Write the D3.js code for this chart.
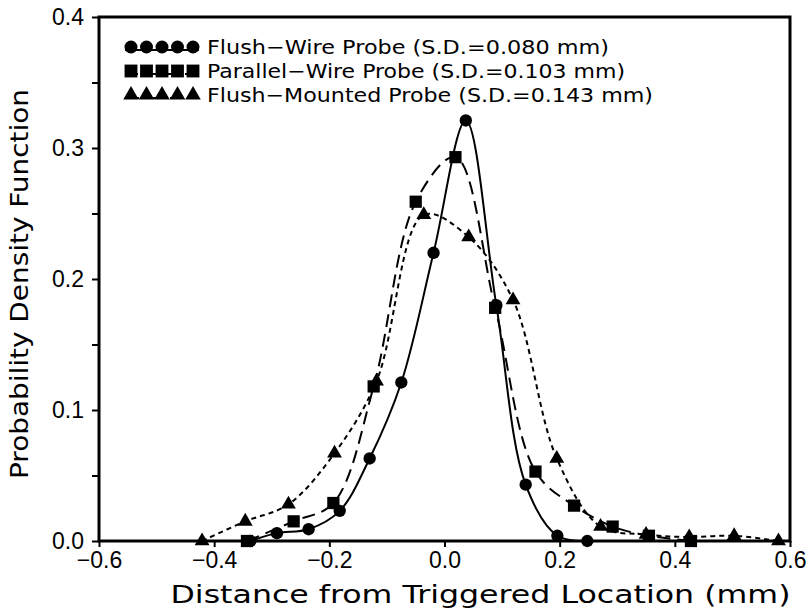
<!DOCTYPE html>
<html>
<head>
<meta charset="utf-8">
<script src="https://cdn.jsdelivr.net/npm/d3@7"></script>
<style>
  body { margin: 0; background: #fff; }
  svg { font-family: "DejaVu Sans", sans-serif; }
  .axis path, .axis line { stroke: #000; }
  .axis text { font-size: 23px; fill: #000; }
</style>
</head>
<body>
<div id="chart"></div>
<script>
// flush-wire probe (circles, solid)
let wireX = [-0.337, -0.291, -0.236, -0.182, -0.130, -0.075, -0.019, 0.037, 0.090, 0.141, 0.196, 0.248];
let wireY = [0.000, 0.006, 0.009, 0.023, 0.063, 0.121, 0.220, 0.321, 0.180, 0.043, 0.004, 0.000];

// parallel-wire probe (squares, long dash)
let parX = [-0.343, -0.262, -0.193, -0.123, -0.050, 0.019, 0.088, 0.158, 0.225, 0.292, 0.355, 0.428];
let parY = [0.000, 0.015, 0.029, 0.118, 0.259, 0.293, 0.178, 0.053, 0.027, 0.011, 0.004, 0.000];

// flush-mounted probe (triangles, short dash)
let mountX = [-0.421, -0.346, -0.271, -0.191, -0.118, -0.036, 0.042, 0.119, 0.195, 0.271, 0.350, 0.425, 0.503, 0.580];
let mountY = [0.000, 0.015, 0.028, 0.067, 0.122, 0.249, 0.232, 0.184, 0.063, 0.011, 0.005, 0.003, 0.004, 0.000];

let legendLabels = [
    'Flush\u2212Wire Probe  (S.D.=0.080  mm)',
    'Parallel\u2212Wire Probe  (S.D.=0.103  mm)',
    'Flush\u2212Mounted Probe  (S.D.=0.143  mm)'
];
let xTicks = [-0.6, -0.4, -0.2, 0.0, 0.2, 0.4, 0.6];
let yTicks = [0.0, 0.05, 0.1, 0.15, 0.2, 0.25, 0.3, 0.35, 0.4];

let margin = {top: 17, right: 18, bottom: 71, left: 99};
let W = 808, H = 612;
let width = W - margin.left - margin.right;
let height = H - margin.top - margin.bottom;

let svg = d3.select('#chart').append('svg')
    .attr('width', W)
    .attr('height', H);

let g = svg.append('g')
    .attr('transform', 'translate(' + margin.left + ',' + margin.top + ')');

let x = d3.scaleLinear().domain([-0.6, 0.6]).range([0, width]);
let y = d3.scaleLinear().domain([0, 0.4]).range([height, 0]);

let series = [
    {xs: wireX, ys: wireY, marker: d3.symbolCircle, size: 120, dash: null, label: legendLabels[0]},
    {xs: parX, ys: parY, marker: d3.symbolSquare, size: 150, dash: '13,7', label: legendLabels[1]},
    {xs: mountX, ys: mountY, marker: d3.symbolTriangle, size: 95, dash: '5,4', label: legendLabels[2]}
];

let line = d3.line()
    .x(function(d) { return x(d[0]); })
    .y(function(d) { return y(d[1]); })
    .curve(d3.curveCatmullRom.alpha(0.5));

series.forEach(function(s) {
    let pts = s.xs.map(function(v, i) { return [v, s.ys[i]]; });
    g.append('path')
        .datum(pts)
        .attr('fill', 'none')
        .attr('stroke', '#000')
        .attr('stroke-width', 2)
        .attr('stroke-dasharray', s.dash)
        .attr('d', line);
    g.selectAll(null)
        .data(pts)
        .enter().append('path')
        .attr('transform', function(d) { return 'translate(' + x(d[0]) + ',' + y(d[1]) + ')'; })
        .attr('d', d3.symbol().type(s.marker).size(s.size))
        .attr('fill', '#000');
});

// axes
let xAxis = g.append('g')
    .attr('class', 'axis')
    .attr('transform', 'translate(0,' + height + ')')
    .call(d3.axisBottom(x).tickValues(xTicks).tickSize(6).tickPadding(5).tickFormat(d3.format('.1f')));

let yAxis = g.append('g')
    .attr('class', 'axis')
    .call(d3.axisLeft(y).tickValues(yTicks).tickSize(7).tickPadding(8)
        .tickFormat(function(d) { return Math.round(d * 100) % 10 === 0 ? d3.format('.1f')(d) : ''; }));

xAxis.selectAll('line').attr('stroke-width', 2);
yAxis.selectAll('line').attr('stroke-width', 2);
xAxis.select('.domain').remove();
yAxis.select('.domain').remove();

// frame
g.append('rect')
    .attr('x', 0)
    .attr('y', 0)
    .attr('width', width)
    .attr('height', height)
    .attr('fill', 'none')
    .attr('stroke', '#000')
    .attr('stroke-width', 3);

// axis titles
svg.append('text')
    .attr('x', margin.left + width / 2 + 36)
    .attr('y', 603)
    .attr('text-anchor', 'middle')
    .attr('font-size', 24)
    .attr('textLength', 620)
    .attr('lengthAdjust', 'spacingAndGlyphs')
    .text('Distance from Triggered Location (mm)');

svg.append('text')
    .attr('transform', 'translate(28,' + 284 + ') rotate(-90)')
    .attr('text-anchor', 'middle')
    .attr('font-size', 24)
    .attr('textLength', 390)
    .attr('lengthAdjust', 'spacingAndGlyphs')
    .text('Probability Density Function');

// legend
let legend = g.append('g').attr('transform', 'translate(26,30)');
series.forEach(function(s, i) {
    let row = legend.append('g').attr('transform', 'translate(0,' + (i * 24) + ')');
    row.append('line')
        .attr('x1', 0).attr('x2', 74)
        .attr('y1', 3).attr('y2', 3)
        .attr('stroke', '#000')
        .attr('stroke-width', 2)
        .attr('stroke-dasharray', s.dash);
    for (let k = 0; k < 5; k++) {
        row.append('path')
            .attr('transform', 'translate(' + (6 + k * 15.5) + ',0)')
            .attr('d', d3.symbol().type(s.marker).size(s.size * 1.1))
            .attr('fill', '#000');
    }
    row.append('text')
        .attr('x', 82)
        .attr('y', 7)
        .attr('font-size', 20)
        .attr('textLength', [402, 418, 446][i])
        .attr('lengthAdjust', 'spacingAndGlyphs')
        .text(s.label);
});
</script>
</body>
</html>
